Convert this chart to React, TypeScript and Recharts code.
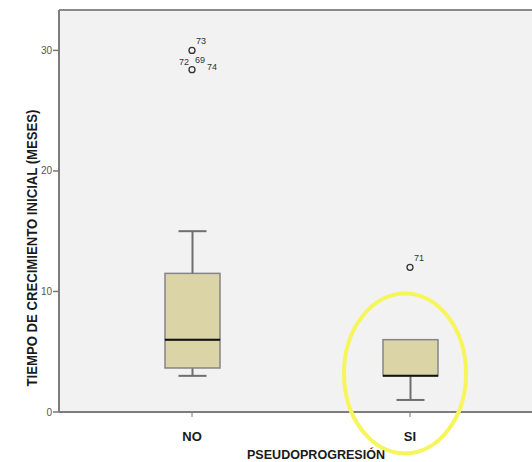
import React from 'react';
import {
    ComposedChart, Bar, Line, XAxis, YAxis, CartesianGrid, ReferenceLine, ReferenceDot, Label,
} from 'recharts';

// boxplot values, one entry per category
const CATEGORIES = ['NO', 'SI'];
const WHISKER_LOW = [3, 1];
const Q1 = [3.65, 3];
const MEDIAN = [6, 3];
const Q3 = [11.5, 6];
const WHISKER_HIGH = [15, 6];

// outliers (two levels per category) and their case numbers
const OUTLIER_A = [30, 12];
const OUTLIER_A_IDS = [['73'], ['71']];
const OUTLIER_B = [28.4, null];
const OUTLIER_B_IDS = [['72', '69', '74'], []];

const Y_TICKS = [0, 10, 20, 30];
const Y_MAX = 33.35;
const HIGHLIGHT_Y = 3.2; // centre of the yellow mark around SI

const BOX_FILL = '#dad4a7';
const BOX_EDGE = '#858585';
const WHISKER = '#6e6e6e';

const data = CATEGORIES.map((name, i) => ({
    name,
    base: WHISKER_LOW[i],
    lowWhisker: Q1[i] - WHISKER_LOW[i],
    lowBox: MEDIAN[i] - Q1[i],
    highBox: Q3[i] - MEDIAN[i],
    highWhisker: WHISKER_HIGH[i] - Q3[i],
    outA: OUTLIER_A[i],
    outAIds: OUTLIER_A_IDS[i],
    outB: OUTLIER_B[i],
    outBIds: OUTLIER_B_IDS[i],
}));

const empty = () => <g />;

const LowWhisker = (p: any) => {
    if (!p.height || p.height <= 0) return <g />;
    const cx = p.x + p.width / 2;
    const bottom = p.y + p.height;
    return (
        <g>
            <line x1={cx} x2={cx} y1={p.y} y2={bottom} stroke={WHISKER} strokeWidth={2} />
            <line x1={cx - 14} x2={cx + 14} y1={bottom} y2={bottom} stroke={WHISKER} strokeWidth={2} />
        </g>
    );
};

const HighWhisker = (p: any) => {
    if (!p.height || p.height <= 0) return <g />;
    const cx = p.x + p.width / 2;
    return (
        <g>
            <line x1={cx} x2={cx} y1={p.y} y2={p.y + p.height} stroke={WHISKER} strokeWidth={2} />
            <line x1={cx - 14} x2={cx + 14} y1={p.y} y2={p.y} stroke={WHISKER} strokeWidth={2} />
        </g>
    );
};

const LowBox = (p: any) => {
    if (!p.height || p.height <= 0) return <g />;
    return <rect x={p.x} y={p.y} width={p.width} height={p.height} fill={BOX_FILL} stroke={BOX_EDGE} strokeWidth={1.5} />;
};

// upper half of the box, the median line sits on its lower edge
const HighBox = (p: any) => {
    if (p.height == null) return <g />;
    const bottom = p.y + p.height;
    return (
        <g>
            <rect x={p.x} y={p.y} width={p.width} height={p.height} fill={BOX_FILL} stroke={BOX_EDGE} strokeWidth={1.5} />
            <line x1={p.x} x2={p.x + p.width} y1={bottom} y2={bottom} stroke="#111" strokeWidth={2} />
        </g>
    );
};

const idStyle = { fontSize: 9, fill: '#333', fontFamily: 'Liberation Sans, Arial, sans-serif' };

const makeOutlier = (idKey: string) => (p: any) => {
    if (p.cx == null || p.cy == null || p.value == null) return <g key={`o-${idKey}-${p.index}`} />;
    const ids: string[] = p.payload[idKey] || [];
    return (
        <g key={`o-${idKey}-${p.index}`}>
            <circle cx={p.cx} cy={p.cy} r={3} fill="#f2f2f2" stroke="#333" strokeWidth={1.3} />
            {ids.length === 1 && (
                <text x={p.cx + 4} y={p.cy - 6} {...idStyle}>{ids[0]}</text>
            )}
            {ids.length === 3 && (
                <g>
                    <text x={p.cx - 3} y={p.cy - 5} textAnchor="end" {...idStyle}>{ids[0]}</text>
                    <text x={p.cx + 3} y={p.cy - 7} {...idStyle}>{ids[1]}</text>
                    <text x={p.cx + 15} y={p.cy} {...idStyle}>{ids[2]}</text>
                </g>
            )}
        </g>
    );
};

const YTitle = (props: any) => {
    const vb = props.viewBox;
    const x = 37;
    const y = vb.y + vb.height / 2 + 37;
    return (
        <text x={x} y={y} transform={`rotate(-90, ${x}, ${y})`} textAnchor="middle"
            fontSize={14} fontWeight="bold" fill="#1a1a1a" fontFamily="Liberation Sans, Arial, sans-serif"
            textLength={277} lengthAdjust="spacingAndGlyphs">
            TIEMPO DE CRECIMIENTO INICIAL (MESES)
        </text>
    );
};

const XTitle = (props: any) => {
    const vb = props.viewBox;
    return (
        <text x={vb.x + vb.width / 2 + 15} y={vb.y + 47} textAnchor="middle"
            fontSize={13} fontWeight="bold" fill="#1a1a1a" fontFamily="Liberation Sans, Arial, sans-serif"
            textLength={138} lengthAdjust="spacingAndGlyphs">
            PSEUDOPROGRESIÓN
        </text>
    );
};

const App: React.FC = () => {
    return (
        <div style={{ position: 'absolute', left: 0, top: 0, width: 532, height: 462, overflow: 'hidden', background: '#fff' }}>
            <ComposedChart width={560} height={462} data={data} margin={{ top: 10, right: 17, bottom: 0, left: 0 }}>
                <CartesianGrid horizontal={false} vertical={false} fill="#f2f2f2" />
                <XAxis
                    dataKey="name"
                    height={50}
                    padding={{ left: 24, right: 24 }}
                    axisLine={{ stroke: '#7d7d7d', strokeWidth: 2 }}
                    tickLine={{ stroke: '#777' }}
                    tickSize={5}
                    tickMargin={15}
                    tick={{ fontSize: 13, fontWeight: 'bold', fill: '#1a1a1a', fontFamily: 'Liberation Sans, Arial, sans-serif' }}
                >
                    <Label content={XTitle} />
                </XAxis>
                <YAxis
                    width={59}
                    domain={[0, Y_MAX]}
                    ticks={Y_TICKS}
                    allowDataOverflow
                    axisLine={{ stroke: '#7d7d7d', strokeWidth: 2 }}
                    tickLine={{ stroke: '#777', strokeWidth: 1.5 }}
                    tickSize={6}
                    tickMargin={1}
                    tick={{ fontSize: 10, fill: '#555', fontFamily: 'Liberation Sans, Arial, sans-serif' }}
                >
                    <Label content={YTitle} />
                </YAxis>
                <ReferenceLine y={Y_MAX} stroke="#8a8a8a" strokeWidth={2} />
                <Bar dataKey="base" stackId="box" barSize={55} shape={empty} isAnimationActive={false} />
                <Bar dataKey="lowWhisker" stackId="box" barSize={55} shape={LowWhisker} isAnimationActive={false} />
                <Bar dataKey="lowBox" stackId="box" barSize={55} shape={LowBox} isAnimationActive={false} />
                <Bar dataKey="highBox" stackId="box" barSize={55} shape={HighBox} isAnimationActive={false} />
                <Bar dataKey="highWhisker" stackId="box" barSize={55} shape={HighWhisker} isAnimationActive={false} />
                <Line dataKey="outA" stroke="none" dot={makeOutlier('outAIds')} activeDot={false} isAnimationActive={false} />
                <Line dataKey="outB" stroke="none" dot={makeOutlier('outBIds')} activeDot={false} isAnimationActive={false} />
                <ReferenceDot
                    x="SI"
                    y={HIGHLIGHT_Y}
                    ifOverflow="visible"
                    shape={(p: any) => (
                        <ellipse cx={p.cx - 5} cy={p.cy} rx={61} ry={80} fill="none" stroke="#f6f55c" strokeWidth={4} />
                    )}
                />
            </ComposedChart>
        </div>
    );
};

export default App;
